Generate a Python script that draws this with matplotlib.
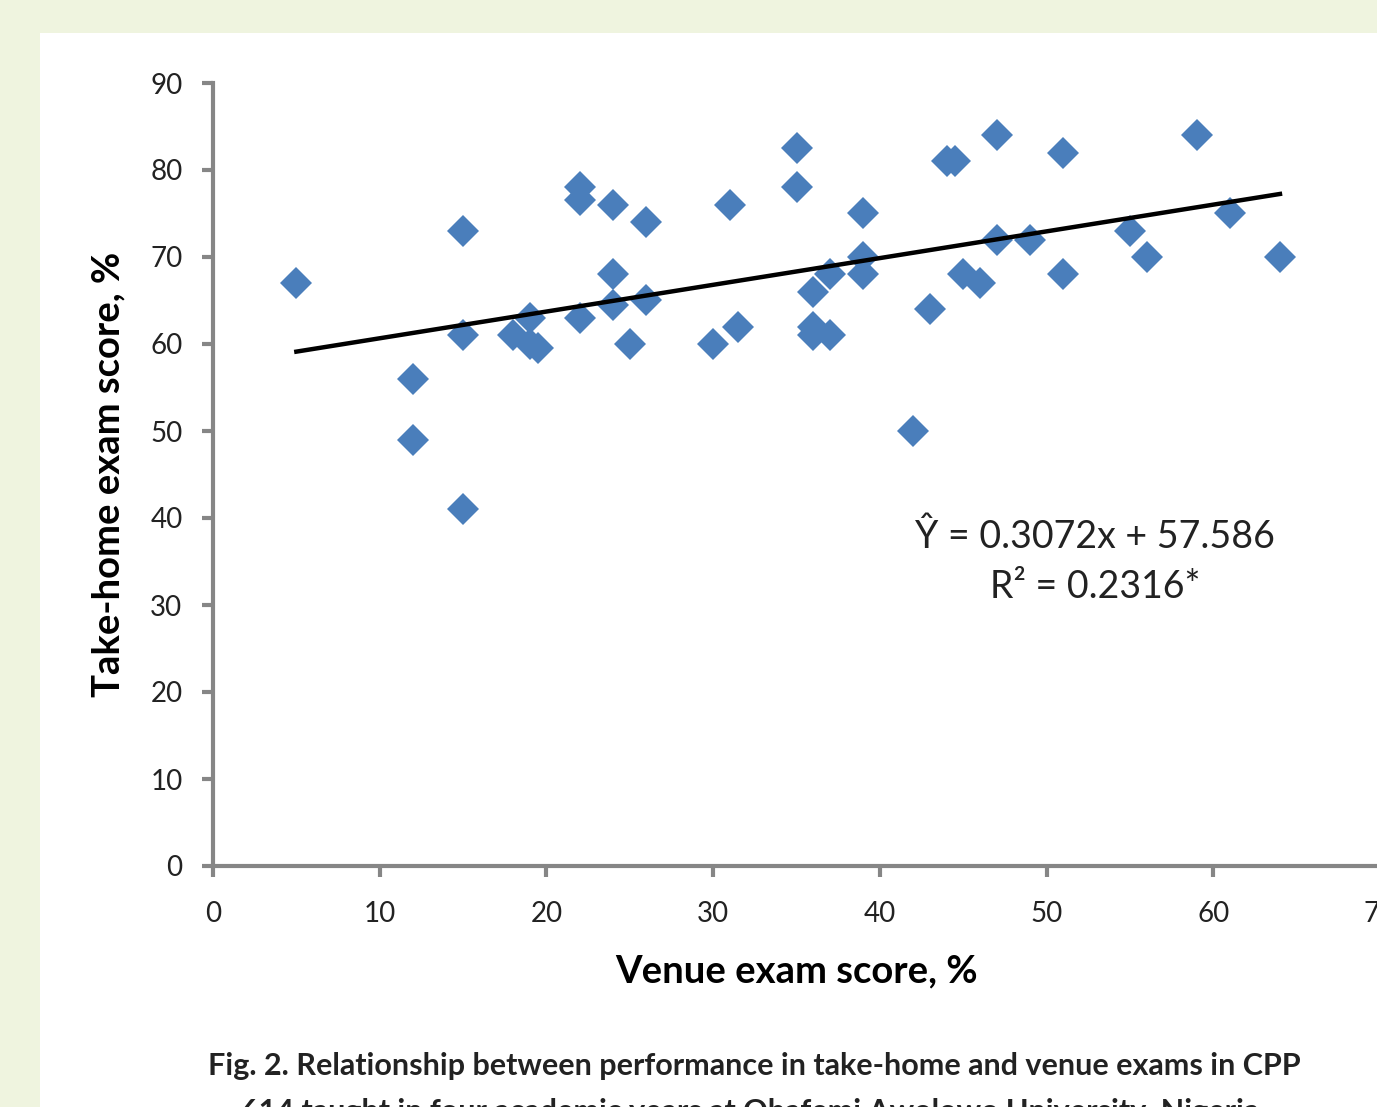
import matplotlib
matplotlib.use('Agg')
import matplotlib.pyplot as plt
from matplotlib.patches import Rectangle

# venue exam score (%) vs take-home exam score (%)
venue = [5, 12, 12, 15, 15, 15, 18, 19, 19, 19.5, 22, 22, 22, 24, 24, 24, 25, 26, 26,
         30, 31, 31.5, 35, 35, 36, 36, 36, 37, 37, 39, 39, 39, 42, 43, 44, 44.5, 45,
         46, 47, 47, 49, 51, 51, 55, 56, 59, 61, 64]
takehome = [67, 56, 49, 73, 61, 41, 61, 63, 60, 59.5, 78, 76.5, 63, 76, 68, 64.5, 60, 74, 65,
            60, 76, 62, 82.5, 78, 66, 62, 61, 61, 68, 75, 70, 68, 50, 64, 81, 81, 68,
            67, 84, 72, 72, 82, 68, 73, 70, 84, 75, 70]
slope, intercept = 0.3072, 57.586
xticks = [0, 10, 20, 30, 40, 50, 60, 70]
yticks = [0, 10, 20, 30, 40, 50, 60, 70, 80, 90]

plt.rcParams['font.family'] = ['Lato', 'DejaVu Sans']

fig = plt.figure(figsize=(13.77, 11.07), dpi=100)
fig.patch.set_facecolor('#eff4df')
fig.patches.append(Rectangle((40 / 1377, 0), 1.0, 1 - 33 / 1107, transform=fig.transFigure,
                             facecolor='white', edgecolor='none', zorder=-5))

ax = fig.add_axes([213 / 1377, 241 / 1107, 1167 / 1377, 783 / 1107])
ax.set_facecolor('none')

ax.plot(venue, takehome, 'D', color='#4a7ebb', markersize=16.5, markeredgewidth=0, zorder=3)
tx = [min(venue), max(venue)]
ax.plot(tx, [slope * v + intercept for v in tx], color='black', linewidth=3.2, zorder=4)

ax.text(52.9, 37.8, 'Ŷ = 0.3072x + 57.586', fontsize=27, ha='center', va='center', color='#222222')
ax.text(52.9, 32.1, 'R² = 0.2316*', fontsize=27, ha='center', va='center', color='#222222')

ax.set_xlim(0, 70)
ax.set_ylim(0, 90)
ax.set_xticks(xticks)
ax.set_yticks(yticks)
ax.tick_params(axis='both', colors='#868686', width=3, length=8, labelsize=20, labelcolor='#222222')
ax.tick_params(axis='y', pad=14)
ax.tick_params(axis='x', pad=17)
for s in ['top', 'right']:
    ax.spines[s].set_visible(False)
for s in ['left', 'bottom']:
    ax.spines[s].set_color('#868686')
    ax.spines[s].set_linewidth(3)

ax.set_xlabel('Venue exam score, %', fontsize=27.5, fontweight='bold', labelpad=20)
ax.set_ylabel('Take-home exam score, %', fontsize=27.5, fontweight='bold', labelpad=18)

fig.text(0.5475, 1 - 1066 / 1107, 'Fig. 2. Relationship between performance in take-home and venue exams in CPP',
         fontsize=22, fontweight='bold', ha='center', va='center', color='#222222')
fig.text(0.5475, 1 - 1112 / 1107, '614 taught in four academic years at Obafemi Awolowo University, Nigeria.',
         fontsize=22, fontweight='bold', ha='center', va='center', color='#222222')

fig.savefig('out.png', dpi=100, facecolor=fig.get_facecolor())
